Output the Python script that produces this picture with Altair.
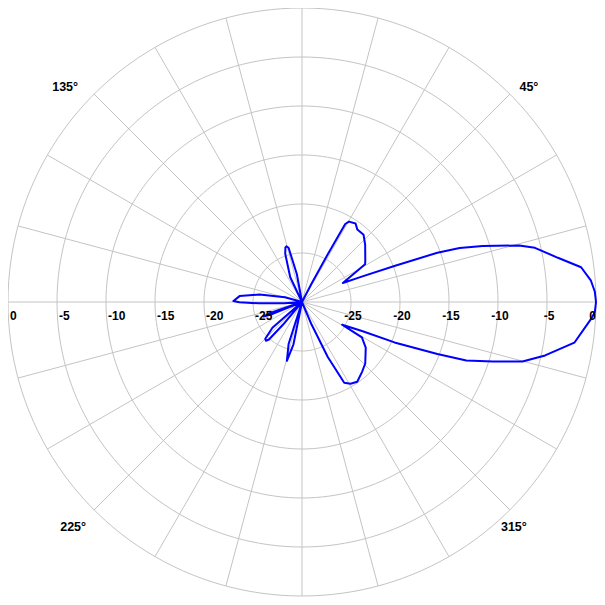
import altair as alt
import pandas as pd
import numpy as np

# ---- pattern data (angle in degrees, gain in dB) ----
angles = [0, 2, 4.3, 7.1, 9.8, 13.1, 14.6, 17.2, 18.9, 20.0, 21.3, 23.0, 25.0,
          30.9, 33, 42.2, 47.5, 52.6, 55.7, 59.7, 61.0, 61.6, 62.6, 64,
          99, 100.5, 103.9, 105.7, 107, 109.2, 115.4, 118,
          162, 164.5, 170, 174.6, 179.2, 180.3, 181.7, 184.4, 186,
          196, 199, 200.7, 202, 205,
          215, 221, 225, 227, 228.6, 230, 233,
          246, 252.3, 255.6, 258.6, 262,
          292, 293, 295.1, 297.6, 300.7, 304.7, 310.7, 315.8, 324.4, 329.4, 330.5,
          334.2, 336.4, 339, 340.4, 342.7, 344.9, 347.6, 351.5, 356.5, 358, 360]
gains = [0, -0.1, -0.45, -1.3, -3.5, -5.6, -7.1, -10.7, -13.0, -15.3, -19.8, -23.3, -25.4,
         -22.5, -22.3, -21.3, -20.7, -20.7, -20.3, -20.5, -20.9, -24.5, -27.9, -30,
         -30, -27.1, -24.3, -24.1, -24.2, -24.8, -27.2, -30,
         -30, -28.2, -25.6, -23.6, -23.0, -23.6, -25.6, -28.2, -30,
         -30, -26.5, -25.8, -26.5, -30,
         -30, -26.0, -24.7, -24.6, -24.9, -27.0, -30,
         -30, -25.5, -23.8, -25.6, -30,
         -30, -27.5, -23.8, -20.7, -20.3, -20.1, -20.6, -21.0, -22.0, -22.9, -25.3,
         -23.2, -19.7, -15.2, -12.2, -9.6, -6.7, -4.6, -1.9, -0.5, -0.1, 0]

floor_db = -30
ring_levels = [-25, -20, -15, -10, -5, 0]
spoke_angles = list(range(0, 360, 15))
left_levels = [0, -5, -10, -15, -20, -25]
left_texts = ["0", "-5", "-10", "-15", "-20", "-25"]
right_levels = [-25, -20, -15, -10, -5]
right_texts = ["-25", "-20", "-15", "-10", "-5"]
angle_label_angles = [45, 135, 225, 315]
angle_label_texts = ["45°", "135°", "225°", "315°"]

GRID = "#c4c4c4"
BLUE = "#0000ff"
FONT = "Liberation Sans"

W = 589
H = 589
xs = alt.Scale(domain=[-30, 30.102], nice=False, zero=False)
ys = alt.Scale(domain=[-30.102, 30], nice=False, zero=False)


def polar(chart, rexpr, aexpr, px="x", py="y"):
    return chart.transform_calculate(
        **{px: f"({rexpr}) * cos(({aexpr}) * PI / 180)",
           py: f"({rexpr}) * sin(({aexpr}) * PI / 180)"})


# rings
ring_df = pd.DataFrame([(lv, a) for lv in ring_levels for a in range(0, 362, 2)],
                       columns=["level", "angle"])
rings = polar(alt.Chart(ring_df), f"datum.level - ({floor_db})", "datum.angle").mark_line(
    color=GRID, strokeWidth=1).encode(
    x=alt.X("x:Q", scale=xs, axis=None),
    y=alt.Y("y:Q", scale=ys, axis=None),
    detail="level:N",
    order="angle:Q")

# spokes
spoke_df = pd.DataFrame({"angle": spoke_angles})
spokes = alt.Chart(spoke_df).transform_calculate(
    x0="0", y0="0",
    x1=f"{-floor_db} * cos(datum.angle * PI / 180)",
    y1=f"{-floor_db} * sin(datum.angle * PI / 180)").mark_rule(
    color=GRID, strokeWidth=1).encode(
    x=alt.X("x0:Q", scale=xs, axis=None),
    y=alt.Y("y0:Q", scale=ys, axis=None),
    x2="x1:Q", y2="y1:Q")

# pattern
pat_df = pd.DataFrame({"angle": angles, "gain": gains, "idx": range(len(angles))})
pattern = polar(alt.Chart(pat_df), f"max(datum.gain - ({floor_db}), 0)", "datum.angle").mark_line(
    color=BLUE, strokeWidth=2, strokeJoin="round").encode(
    x=alt.X("x:Q", scale=xs, axis=None),
    y=alt.Y("y:Q", scale=ys, axis=None),
    order="idx:Q")


def text_layer(df, xexpr, yexpr, **kw):
    base = dict(font=FONT, fontWeight="bold", color="black")
    base.update(kw)
    return alt.Chart(df).transform_calculate(tx=xexpr, ty=yexpr).mark_text(**base).encode(
        x=alt.X("tx:Q", scale=xs, axis=None),
        y=alt.Y("ty:Q", scale=ys, axis=None),
        text="label:N")


left_df = pd.DataFrame({"level": left_levels, "label": left_texts})
right_df = pd.DataFrame({"level": right_levels, "label": right_texts})
right0_df = pd.DataFrame({"level": [0], "label": ["0"]})

left_lab = text_layer(left_df, f"-(datum.level - ({floor_db}))", "0",
                      align="left", baseline="top", dx=2, dy=9, fontSize=12)
right_lab = text_layer(right_df, f"datum.level - ({floor_db})", "0",
                       align="center", baseline="top", dx=2, dy=9, fontSize=12)
right0_lab = text_layer(right0_df, f"datum.level - ({floor_db})", "0",
                        align="right", baseline="top", dx=0, dy=9, fontSize=12)

offsets = [(19, -7), (-29, -7), (-21, 17), (4, 17)]
ang_layers = []
for a, t, (ddx, ddy) in zip(angle_label_angles, angle_label_texts, offsets):
    d = pd.DataFrame({"angle": [a], "label": [t]})
    ang_layers.append(text_layer(
        d, f"{-floor_db} * cos(datum.angle * PI / 180)",
        f"{-floor_db} * sin(datum.angle * PI / 180)",
        align="center", baseline="middle", dx=ddx, dy=ddy, fontSize=12.5))

chart = alt.layer(rings, spokes, pattern, left_lab, right_lab, right0_lab, *ang_layers).properties(
    width=W, height=H, padding=0,
    autosize=alt.AutoSizeParams(type="none")
).configure_view(stroke=None)

chart.save("out.html", embed_options={"renderer": "svg", "actions": False})
